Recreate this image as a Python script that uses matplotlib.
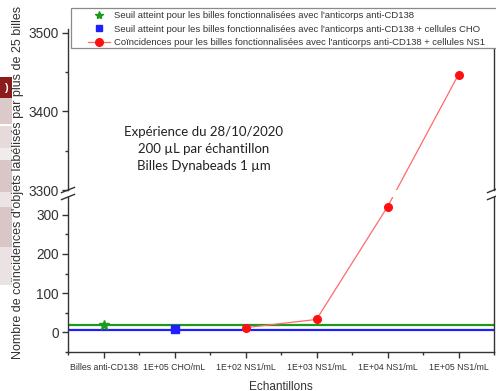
import matplotlib
matplotlib.use("Agg")
import matplotlib.pyplot as plt
from matplotlib.lines import Line2D
from matplotlib.patches import Rectangle
import numpy as np

# ---------------- data ----------------
categories = ["Billes anti-CD138", "1E+05 CHO/mL", "1E+02 NS1/mL",
              "1E+03 NS1/mL", "1E+04 NS1/mL", "1E+05 NS1/mL"]
seuil_cd138 = 19          # green threshold line
seuil_cho = 7             # blue threshold line
cd138_x = [0]
cd138_y = [19]
cho_x = [1]
cho_y = [8]
ns1_x = [2, 3, 4, 5]
ns1_y = [12, 33, 320, 3447]
lower_ylim = (-50, 345)
upper_ylim = (3300, 3505)
lower_major = [0, 100, 200, 300]
lower_minor = [-50, 50, 150, 250]
upper_major = [3300, 3400, 3500]
upper_minor = [3350, 3450]
legend_labels = [
    "Seuil atteint pour les billes fonctionnalisées avec l'anticorps anti-CD138",
    "Seuil atteint pour les billes fonctionnalisées avec l'anticorps anti-CD138 + cellules CHO",
    "Coïncidences pour les billes fonctionnalisées avec l'anticorps anti-CD138 + cellules NS1",
]
note = "Expérience du 28/10/2020\n200 µL par échantillon\nBilles Dynabeads 1 µm"
ylabel = "Nombre de coïncidences d'objets labélisés par plus de 25 billes"
xlabel = "Echantillons"

# ---------------- style ----------------
GREEN = "#1c9a1c"
BLUE = "#1f1fff"
RED = "#ff1010"
REDLINE = "#ff6a6a"
DARK = "#333333"
plt.rcParams["font.family"] = ["Liberation Sans", "DejaVu Sans"]

W, H = 496, 391
fig = plt.figure(figsize=(W / 100, H / 100), dpi=100)
fig.patch.set_facecolor("white")


def fx(px):
    return px / W


def fy(py):
    return 1 - py / H


L, R = 68, 494
ax_top = fig.add_axes([fx(L), fy(190), fx(R) - fx(L), fy(29) - fy(190)])
ax_bot = fig.add_axes([fx(L), fy(352), fx(R) - fx(L), fy(197) - fy(352)])

for ax in (ax_top, ax_bot):
    ax.set_xlim(-0.5, 5.5)
    for s in ax.spines.values():
        s.set_color(DARK)
        s.set_linewidth(1.0)
    ax.tick_params(which="both", direction="out", color=DARK, width=1.0,
                   labelcolor=DARK)
    ax.tick_params(which="major", length=4)
    ax.tick_params(which="minor", length=2.5)
    ax.tick_params(axis="y", labelsize=9.8, pad=2.5)

ax_bot.set_ylim(*lower_ylim)
ax_top.set_ylim(*upper_ylim)

ax_top.spines["bottom"].set_visible(False)
ax_top.spines["top"].set_visible(False)
ax_bot.spines["top"].set_visible(False)
ax_top.set_xticks([])
ax_top.set_xticks([], minor=True)

ax_bot.set_xticks(range(len(categories)))
ax_bot.set_xticklabels(categories)
ax_bot.set_xticks(np.arange(-0.5, len(categories), 1.0), minor=True)
ax_bot.tick_params(axis="x", labelsize=6.3, pad=4)
ax_bot.set_yticks(lower_major)
ax_bot.set_yticks(lower_minor, minor=True)
ax_top.set_yticks(upper_major)
ax_top.set_yticks(upper_minor, minor=True)

# threshold lines and points
ax_bot.axhline(seuil_cd138, color=GREEN, lw=1.6, zorder=2)
ax_bot.axhline(seuil_cho, color=BLUE, lw=1.6, zorder=2)
ax_bot.plot(cd138_x, cd138_y, ls="none", marker="*", ms=7.5, color=GREEN,
            zorder=4)
ax_bot.plot(cho_x, cho_y, ls="none", marker="s", ms=5.2, color=BLUE, zorder=4)

# red series crossing the axis break (straight in display space)
p_lo = ax_bot.transData.transform((ns1_x[2], ns1_y[2]))
p_hi = ax_top.transData.transform((ns1_x[3], ns1_y[3]))
hi_in_bot = ax_bot.transData.inverted().transform(p_hi)
lo_in_top = ax_top.transData.inverted().transform(p_lo)

ax_bot.plot(ns1_x[:3] + [hi_in_bot[0]], ns1_y[:3] + [hi_in_bot[1]],
            color=REDLINE, lw=0.9, zorder=3)
ax_bot.plot(ns1_x[:3], ns1_y[:3], ls="none", marker="o", ms=5.5, color=RED,
            zorder=5)
ax_top.plot([lo_in_top[0], ns1_x[3]], [lo_in_top[1], ns1_y[3]],
            color=REDLINE, lw=0.9, zorder=3)
ax_top.plot(ns1_x[3:], ns1_y[3:], ls="none", marker="o", ms=5.5, color=RED,
            zorder=5)

# break marks
def brk(ax, xa, ya, hpx):
    wpx = R - L
    dx = 6.5 / wpx
    dy = 2.6 / hpx
    ax.add_line(Line2D([xa - dx, xa + dx], [ya - dy, ya + dy],
                       transform=ax.transAxes, color=DARK, lw=1.0,
                       clip_on=False))


for xa in (0, 1):
    brk(ax_top, xa, 0.0, 161)
    brk(ax_bot, xa, 1.0, 155)

# annotation
ax_top.text(fx(204), fy(149), note, transform=fig.transFigure, ha="center",
            va="center", fontsize=9.5, family=["Lato", "DejaVu Sans"],
            color="#222222", linespacing=1.55)

# axis labels
fig.text(fx(18), fy(182), ylabel, rotation=90, ha="center", va="center",
         fontsize=9.0, color=DARK)
fig.text(fx(281), fy(386.5), xlabel, ha="center", va="center", fontsize=8.5,
         color=DARK)

# legend with its own frame
frame = Rectangle((fx(71), fy(48)), fx(500) - fx(71), fy(8) - fy(48),
                  transform=fig.transFigure, facecolor="white",
                  edgecolor="#8a8a8a", lw=0.9, zorder=4)
fig.patches.append(frame)
handles = [
    Line2D([], [], ls="none", marker="*", ms=6, color=GREEN),
    Line2D([], [], ls="none", marker="s", ms=4.5, color=BLUE),
    Line2D([], [], color=REDLINE, lw=0.9, marker="o", ms=5.5, mfc=RED,
           mec=RED),
]
leg = fig.legend(handles, legend_labels, loc="upper left",
                 bbox_to_anchor=(fx(86), fy(8.5)), frameon=False,
                 fontsize=6.8, handlelength=2.3, handletextpad=0.4,
                 labelspacing=0.5, borderpad=0.25, borderaxespad=0)
for t in leg.get_texts():
    t.set_color(DARK)
leg.set_zorder(6)

# decorative fragments at the very left (background of the screenshot)
blocks = [
    (77, 98, "#8b1c1c"),
    (98, 124, "#dccaca"),
    (126, 148, "#e6dada"),
    (148, 160, "#f1ecec"),
    (160, 192, "#d9c7c7"),
    (192, 207, "#ece4e4"),
    (207, 247, "#d9c7c7"),
    (247, 285, "#ebe3e3"),
]
for y0, y1, c in blocks:
    fig.patches.append(Rectangle((0, fy(y1)), fx(12), fy(y0) - fy(y1),
                                 transform=fig.transFigure, facecolor=c,
                                 edgecolor="none", zorder=0))
fig.text(fx(6), fy(88), ")", color="white", fontsize=8, ha="center",
         va="center", fontweight="bold")

fig.savefig("out.png", dpi=100)
